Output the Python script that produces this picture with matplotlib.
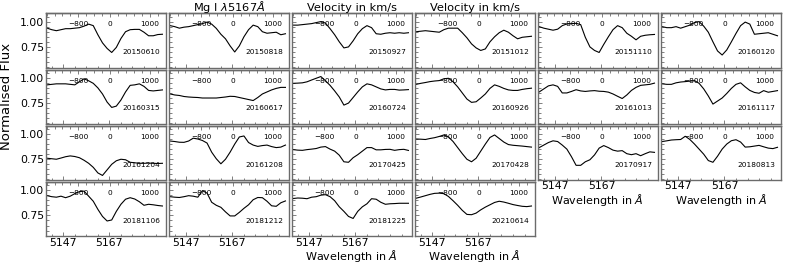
import numpy as np
import matplotlib
matplotlib.use('Agg')
import matplotlib.pyplot as plt
from matplotlib.ticker import MultipleLocator, FixedLocator

# wavelength grid (Angstrom) at which the spectra were read
wave = [5140, 5142, 5144, 5146, 5148, 5150, 5152, 5154, 5156, 5158, 5160, 5162, 5164,
        5166, 5168, 5170, 5172, 5174, 5176, 5178, 5180, 5182, 5184, 5186, 5188, 5190]

dates = ['20150610', '20150818', '20150927', '20151012', '20151110', '20160120',
         '20160315', '20160617', '20160724', '20160926', '20161013', '20161117',
         '20161204', '20161208', '20170425', '20170428', '20170917', '20180813',
         '20181106', '20181212', '20181225', '20210614']

f20150610 = [0.935,0.92,0.91,0.92,0.93,0.93,0.935,0.94,0.955,0.975,0.96,0.87,0.79,0.735,0.695,0.745,0.833,0.90,0.92,0.923,0.923,0.895,0.86,0.86,0.872,0.875]
f20150818 = [0.96,0.95,0.935,0.945,0.95,0.96,0.97,0.98,0.995,0.975,0.933,0.875,0.83,0.76,0.70,0.76,0.85,0.92,0.965,0.95,0.90,0.885,0.89,0.895,0.87,0.88]
f20150927 = [0.965,0.965,0.97,0.975,0.98,0.99,1.0,0.985,0.93,0.87,0.80,0.74,0.75,0.81,0.88,0.93,0.96,0.94,0.88,0.875,0.885,0.89,0.885,0.89,0.885,0.89]
f20151012 = [0.90,0.905,0.91,0.905,0.90,0.895,0.92,0.935,0.935,0.935,0.89,0.84,0.78,0.74,0.715,0.73,0.80,0.85,0.89,0.915,0.895,0.86,0.83,0.845,0.85,0.855]
f20151110 = [0.95,0.935,0.925,0.915,0.925,0.96,0.977,0.98,0.983,0.97,0.845,0.75,0.715,0.695,0.775,0.85,0.92,0.96,0.94,0.885,0.855,0.82,0.855,0.865,0.87,0.873]
f20160120 = [0.95,0.94,0.94,0.95,0.935,0.95,0.965,0.99,1.0,0.955,0.895,0.80,0.71,0.67,0.72,0.80,0.883,0.96,0.995,0.975,0.875,0.88,0.885,0.89,0.875,0.86]
f20160315 = [0.93,0.935,0.94,0.94,0.94,0.935,0.93,0.96,0.99,0.97,0.945,0.90,0.84,0.76,0.707,0.72,0.78,0.86,0.925,0.93,0.94,0.915,0.875,0.87,0.875,0.88]
f20160617 = [0.84,0.83,0.825,0.815,0.81,0.807,0.805,0.80,0.80,0.80,0.80,0.805,0.81,0.817,0.815,0.805,0.795,0.785,0.775,0.805,0.84,0.86,0.88,0.895,0.905,0.905]
f20160724 = [0.945,0.947,0.95,0.96,0.978,0.995,1.012,0.97,0.925,0.87,0.81,0.73,0.75,0.805,0.86,0.91,0.94,0.93,0.91,0.89,0.88,0.885,0.885,0.878,0.88,0.883]
f20160926 = [0.935,0.945,0.953,0.962,0.968,0.972,0.99,0.995,0.96,0.91,0.85,0.79,0.757,0.763,0.80,0.84,0.895,0.93,0.915,0.895,0.88,0.875,0.875,0.885,0.892,0.897]
f20161013 = [0.86,0.89,0.92,0.93,0.915,0.85,0.85,0.865,0.882,0.87,0.865,0.87,0.873,0.867,0.865,0.858,0.84,0.817,0.795,0.83,0.875,0.905,0.925,0.93,0.935,0.947]
f20161117 = [0.94,0.935,0.935,0.95,0.958,0.962,0.967,0.972,0.945,0.89,0.82,0.74,0.77,0.80,0.845,0.895,0.935,0.95,0.91,0.875,0.855,0.847,0.873,0.857,0.865,0.873]
f20161204 = [0.76,0.755,0.75,0.762,0.775,0.783,0.777,0.765,0.74,0.71,0.67,0.615,0.59,0.645,0.70,0.735,0.75,0.745,0.72,0.715,0.71,0.71,0.712,0.71,0.708,0.71]
f20161208 = [0.93,0.925,0.918,0.917,0.93,0.958,0.95,0.935,0.91,0.82,0.755,0.705,0.75,0.82,0.90,0.97,0.98,0.915,0.89,0.877,0.885,0.89,0.875,0.865,0.87,0.89]
f20170425 = [0.845,0.84,0.838,0.845,0.85,0.856,0.87,0.875,0.85,0.83,0.79,0.725,0.72,0.765,0.795,0.83,0.865,0.865,0.843,0.843,0.847,0.848,0.838,0.845,0.848,0.837]
f20170428 = [0.95,0.948,0.945,0.955,0.963,0.975,0.99,0.97,0.925,0.865,0.805,0.75,0.725,0.76,0.83,0.90,0.965,0.99,0.955,0.92,0.895,0.888,0.884,0.88,0.875,0.87]
f20170917 = [0.865,0.89,0.915,0.932,0.925,0.89,0.85,0.775,0.69,0.69,0.725,0.745,0.793,0.86,0.885,0.865,0.84,0.83,0.835,0.805,0.795,0.805,0.785,0.805,0.823,0.818]
f20180813 = [0.925,0.932,0.94,0.943,0.945,0.977,0.945,0.90,0.85,0.80,0.737,0.72,0.78,0.85,0.90,0.933,0.943,0.92,0.87,0.873,0.88,0.887,0.873,0.86,0.855,0.868]
f20181106 = [0.945,0.935,0.93,0.94,0.925,0.94,0.965,0.985,0.99,0.94,0.89,0.81,0.74,0.695,0.705,0.79,0.86,0.91,0.925,0.912,0.885,0.85,0.86,0.855,0.848,0.843]
f20181212 = [0.935,0.93,0.927,0.935,0.945,0.94,0.93,0.995,0.97,0.88,0.85,0.83,0.785,0.745,0.745,0.78,0.82,0.855,0.905,0.927,0.925,0.89,0.845,0.84,0.875,0.893]
f20181225 = [0.917,0.922,0.92,0.915,0.93,0.935,0.95,0.955,0.935,0.895,0.835,0.79,0.74,0.72,0.79,0.835,0.865,0.915,0.91,0.88,0.86,0.865,0.867,0.87,0.87,0.87]
f20210614 = [0.92,0.932,0.945,0.958,0.968,0.97,0.965,0.937,0.895,0.85,0.80,0.76,0.757,0.773,0.805,0.832,0.855,0.878,0.89,0.882,0.87,0.857,0.848,0.84,0.837,0.843]

fluxes = [f20150610, f20150818, f20150927, f20151012, f20151110, f20160120,
          f20160315, f20160617, f20160724, f20160926, f20161013, f20161117,
          f20161204, f20161208, f20170425, f20170428, f20170917, f20180813,
          f20181106, f20181212, f20181225, f20210614]

wave_ticks = [5147, 5167]
vel_ticks = [-800, 0, 1000]
flux_ticks = [0.75, 1.00]

C_KMS = 299792.458
LAM0 = 5167.32


def lam2vel(lam):
    return (np.asarray(lam) / LAM0 - 1.0) * C_KMS


def vel2lam(v):
    return LAM0 * (1.0 + np.asarray(v) / C_KMS)


plt.rcParams['font.family'] = ['DejaVu Sans']
fig = plt.figure(figsize=(7.89, 2.63), dpi=100)
gs = fig.add_gridspec(4, 6, left=0.0583, right=0.9895, top=0.9487, bottom=0.102,
                      wspace=0.028, hspace=0.037)
spc = '0.42'
ncols = 6
n = len(dates)
for i in range(24):
    r, c = divmod(i, ncols)
    ax = fig.add_subplot(gs[r, c])
    if i >= n:
        ax.axis('off')
        continue
    ax.plot(wave, fluxes[i], color='black', lw=0.8)
    ax.set_xlim(5139.5, 5191.4)
    ax.set_ylim(0.545, 1.08)
    ax.xaxis.set_major_locator(FixedLocator(wave_ticks))
    ax.xaxis.set_minor_locator(MultipleLocator(5, offset=2))
    ax.yaxis.set_major_locator(FixedLocator(flux_ticks))
    ax.yaxis.set_minor_locator(MultipleLocator(0.05))
    ax.tick_params(which='both', direction='in', color=spc, width=0.6,
                   top=False, right=False, labelsize=7.8)
    ax.tick_params(axis='x', pad=1.0)
    ax.tick_params(axis='y', pad=1.5)
    ax.tick_params(which='major', length=3)
    ax.tick_params(which='minor', length=1.8)
    for s in ax.spines.values():
        s.set_color(spc)
        s.set_linewidth(1.0)
    last_in_col = (i + ncols >= n)
    ax.tick_params(labelbottom=last_in_col, labelleft=(c == 0))
    if c == 0:
        ax.set_yticklabels(['%.2f' % t for t in flux_ticks])
    if last_in_col and c >= 2:
        ax.set_xlabel('Wavelength in $\\AA$', fontsize=8.0, labelpad=0.2)

    sec = ax.secondary_xaxis('top', functions=(lam2vel, vel2lam))
    sec.xaxis.set_major_locator(FixedLocator(vel_ticks))
    sec.xaxis.set_minor_locator(MultipleLocator(200))
    sec.tick_params(which='both', direction='in', color=spc, width=0.6,
                    labelsize=5.3, pad=-10)
    sec.tick_params(which='major', length=3)
    sec.tick_params(which='minor', length=1.8)
    sec.spines['top'].set_color(spc)
    sec.spines['top'].set_linewidth(1.0)

    ax.text(0.955, 0.285, dates[i], transform=ax.transAxes, ha='right', va='center',
            fontsize=5.3)

    if i == 1:
        ax.set_title('Mg I $\\lambda5167\\AA$', fontsize=8.2, pad=1.5, y=1.0)
    elif i in (2, 3):
        ax.set_title('Velocity in km/s', fontsize=8.2, pad=1.5, y=1.0)
    if i == 6:
        ax.set_ylabel('Normalised Flux', fontsize=9.5, labelpad=4.5)

fig.savefig('out.png', dpi=100)
